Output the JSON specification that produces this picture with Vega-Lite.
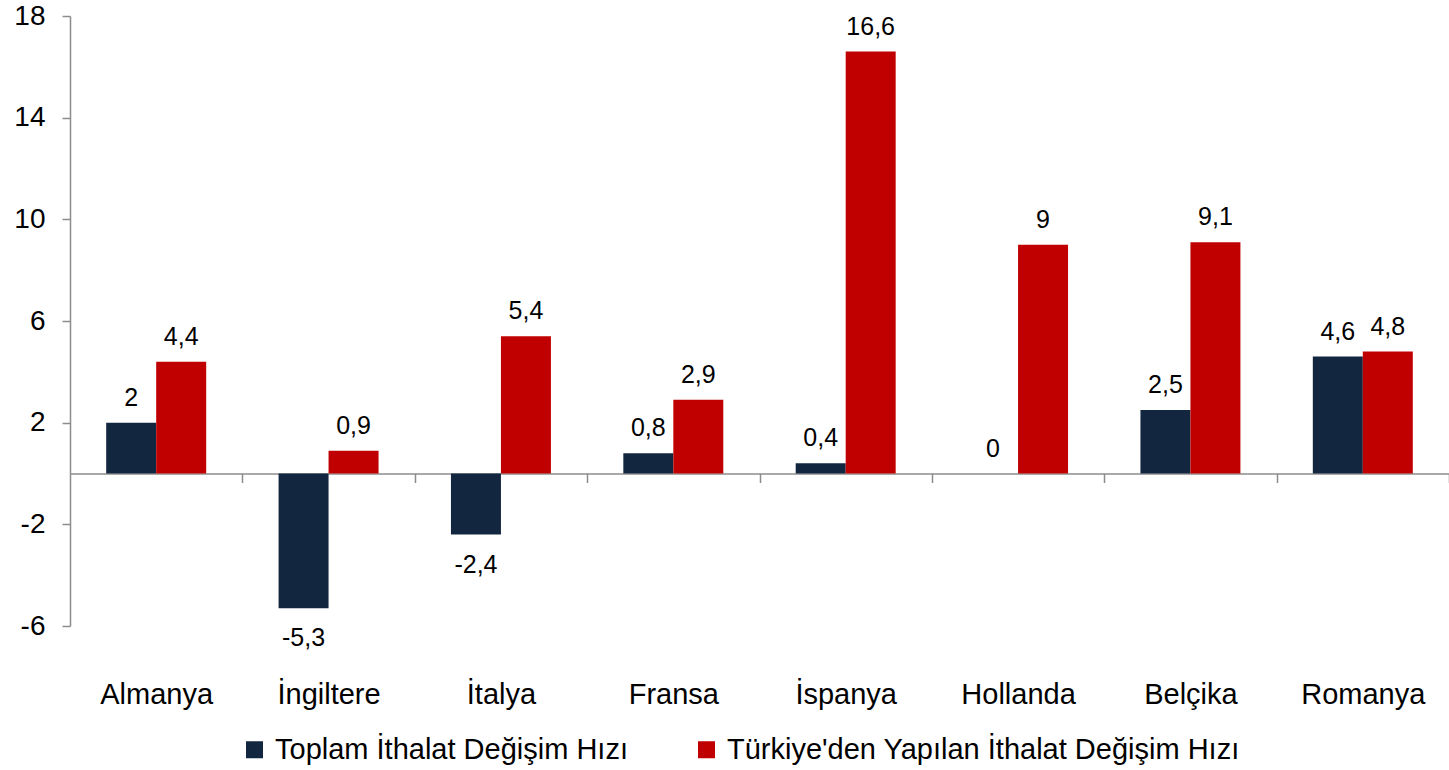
{
  "$schema": "https://vega.github.io/schema/vega-lite/v6.json",
  "autosize": "none",
  "width": 1379,
  "height": 610,
  "padding": {"left": 70, "top": 16, "right": 0, "bottom": 144},
  "background": "white",
  "config": {
    "view": {"stroke": null},
    "font": "Liberation Sans",
    "axis": {"labelFont": "Liberation Sans", "labelColor": "#000000", "domainColor": "#8c8c8c", "tickColor": "#8c8c8c", "domainWidth": 1.5, "tickWidth": 1.5},
    "legend": {"labelFont": "Liberation Sans"}
  },
  "data": {
    "values": [
      {"country": "Almanya", "series": "Toplam İthalat Değişim Hızı", "value": 2, "label": "2"},
      {"country": "Almanya", "series": "Türkiye'den Yapılan İthalat Değişim Hızı", "value": 4.4, "label": "4,4"},
      {"country": "İngiltere", "series": "Toplam İthalat Değişim Hızı", "value": -5.3, "label": "-5,3"},
      {"country": "İngiltere", "series": "Türkiye'den Yapılan İthalat Değişim Hızı", "value": 0.9, "label": "0,9"},
      {"country": "İtalya", "series": "Toplam İthalat Değişim Hızı", "value": -2.4, "label": "-2,4"},
      {"country": "İtalya", "series": "Türkiye'den Yapılan İthalat Değişim Hızı", "value": 5.4, "label": "5,4"},
      {"country": "Fransa", "series": "Toplam İthalat Değişim Hızı", "value": 0.8, "label": "0,8"},
      {"country": "Fransa", "series": "Türkiye'den Yapılan İthalat Değişim Hızı", "value": 2.9, "label": "2,9"},
      {"country": "İspanya", "series": "Toplam İthalat Değişim Hızı", "value": 0.4, "label": "0,4"},
      {"country": "İspanya", "series": "Türkiye'den Yapılan İthalat Değişim Hızı", "value": 16.6, "label": "16,6"},
      {"country": "Hollanda", "series": "Toplam İthalat Değişim Hızı", "value": 0, "label": "0"},
      {"country": "Hollanda", "series": "Türkiye'den Yapılan İthalat Değişim Hızı", "value": 9, "label": "9"},
      {"country": "Belçika", "series": "Toplam İthalat Değişim Hızı", "value": 2.5, "label": "2,5"},
      {"country": "Belçika", "series": "Türkiye'den Yapılan İthalat Değişim Hızı", "value": 9.1, "label": "9,1"},
      {"country": "Romanya", "series": "Toplam İthalat Değişim Hızı", "value": 4.6, "label": "4,6"},
      {"country": "Romanya", "series": "Türkiye'den Yapılan İthalat Değişim Hızı", "value": 4.8, "label": "4,8"}
    ]
  },
  "encoding": {
    "x": {
      "field": "country", "type": "nominal", "sort": null,
      "scale": {"paddingInner": 0.42, "paddingOuter": 0.21},
      "axis": {"title": null, "orient": "bottom", "offset": -152.5, "labelAngle": 0, "labelFontSize": 29, "tickSize": 9, "tickOffset": 86.19, "labelOffset": -86.19, "labelPadding": 198, "labelBaseline": "top"}
    },
    "xOffset": {"field": "series", "type": "nominal", "sort": null, "scale": {"paddingInner": 0, "paddingOuter": 0}},
    "y": {
      "field": "value", "type": "quantitative",
      "scale": {"domain": [-6, 18], "nice": false, "zero": false},
      "axis": {"title": null, "values": [-6, -2, 2, 6, 10, 14, 18], "labelExpr": "replace(datum.label, '−', '-')", "grid": false, "labelFontSize": 28, "tickSize": 8, "labelPadding": 17}
    }
  },
  "layer": [
    {
      "mark": {"type": "bar"},
      "encoding": {
        "color": {
          "field": "series", "type": "nominal", "sort": null,
          "scale": {"domain": ["Toplam İthalat Değişim Hızı", "Türkiye'den Yapılan İthalat Değişim Hızı"], "range": ["#13263F", "#C00000"]},
          "legend": {"title": null, "orient": "none", "direction": "horizontal", "legendX": 170, "legendY": 719, "symbolType": "square", "symbolSize": 289, "symbolStrokeWidth": 0, "labelFontSize": 29, "labelOffset": 6, "columnPadding": 64, "labelLimit": 700, "labelColor": "#000000"}
        }
      }
    },
    {
      "transform": [{"filter": "datum.value >= 0"}],
      "mark": {"type": "text", "fontSize": 25, "baseline": "alphabetic", "dy": -17, "color": "#000000"},
      "encoding": {"text": {"field": "label"}}
    },
    {
      "transform": [{"filter": "datum.value < 0"}],
      "mark": {"type": "text", "fontSize": 25, "baseline": "alphabetic", "dy": 38, "color": "#000000"},
      "encoding": {"text": {"field": "label"}}
    }
  ]
}
